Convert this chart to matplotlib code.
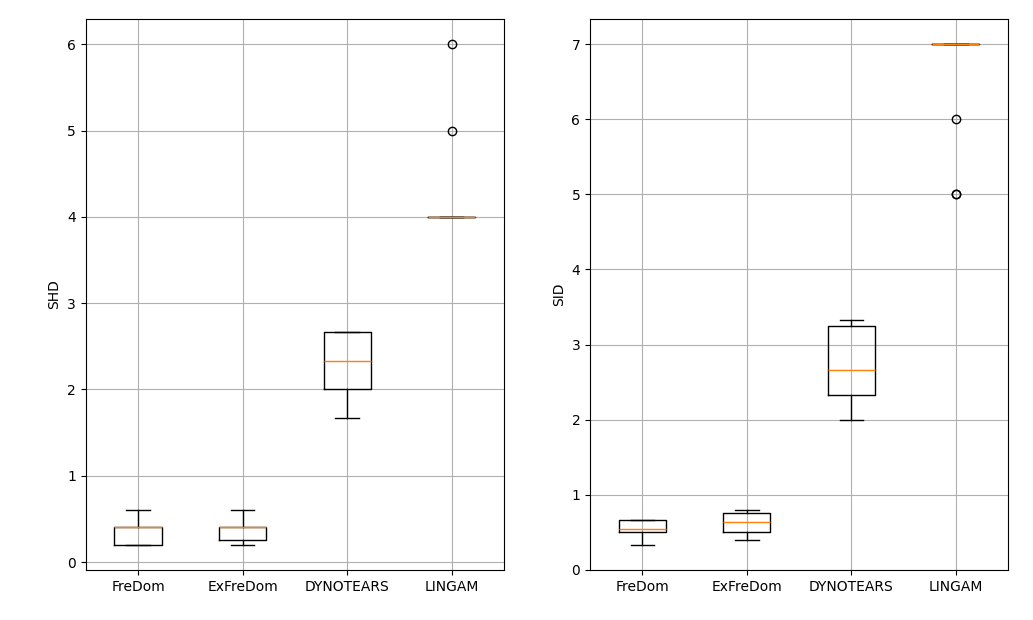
import matplotlib
matplotlib.use("Agg")
import matplotlib.pyplot as plt

methods = ["FreDom", "ExFreDom", "DYNOTEARS", "LINGAM"]

# SHD box statistics
shd_med = [0.4, 0.4, 2.333, 4.0]
shd_q1 = [0.2, 0.25, 2.0, 4.0]
shd_q3 = [0.4, 0.4, 2.667, 4.0]
shd_lo = [0.2, 0.2, 1.667, 4.0]
shd_hi = [0.6, 0.6, 2.667, 4.0]
shd_fliers = [[], [], [], [5.0, 6.0]]

# SID box statistics
sid_med = [0.54, 0.633, 2.667, 7.0]
sid_q1 = [0.5, 0.5, 2.333, 7.0]
sid_q3 = [0.667, 0.75, 3.25, 7.0]
sid_lo = [0.333, 0.4, 2.0, 7.0]
sid_hi = [0.667, 0.8, 3.333, 7.0]
sid_fliers = [[], [], [], [6.0, 5.0, 5.0]]


def make_stats(med, q1, q3, lo, hi, fliers):
    stats = []
    for i, name in enumerate(methods):
        stats.append(dict(label=name, med=med[i], q1=q1[i], q3=q3[i],
                          whislo=lo[i], whishi=hi[i], fliers=fliers[i]))
    return stats


fig, (ax1, ax2) = plt.subplots(1, 2, figsize=(10.33, 6.2), dpi=100)
fig.subplots_adjust(left=0.083, right=0.976, top=0.969, bottom=0.081, wspace=0.206)

ax1.bxp(make_stats(shd_med, shd_q1, shd_q3, shd_lo, shd_hi, shd_fliers))
ax1.set_ylabel("SHD")
ax1.grid(True)

ax2.bxp(make_stats(sid_med, sid_q1, sid_q3, sid_lo, sid_hi, sid_fliers))
ax2.set_ylabel("SID")
ax2.grid(True)

fig.savefig("out.png")
